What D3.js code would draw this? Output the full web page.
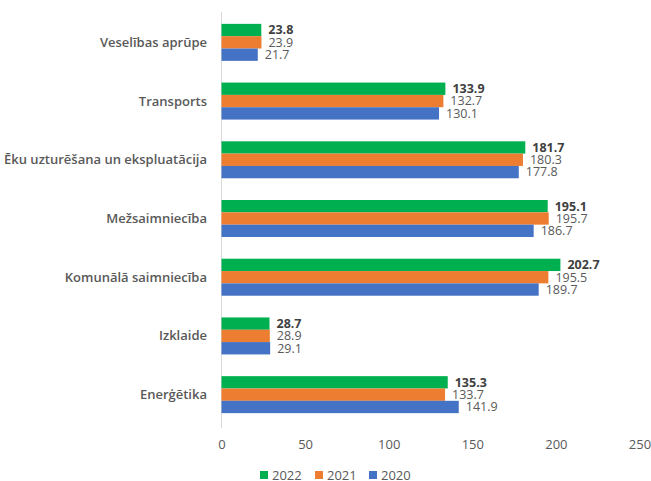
<!DOCTYPE html>
<meta charset="utf-8">
<html>
<style>
  body { margin: 0; background: #fff; }
  .chart text { font-family: "Open Sans", sans-serif; fill: #595959; }
  .cat text { font-size: 13px; font-weight: 600; }
  .xaxis text { font-size: 13px; }
  .val { font-size: 12.5px; }
</style>
<script src="https://cdn.jsdelivr.net/npm/d3@7"></script>
<body>
  <svg class="chart"></svg>
</body>
<script>
  var width = 651;
  var height = 481;

  var categories = ["Veselības aprūpe", "Transports", "Ēku uzturēšana un ekspluatācija",
    "Mežsaimniecība", "Komunālā saimniecība", "Izklaide", "Enerģētika"];
  var years = ["2022", "2021", "2020"];
  var v2022 = [23.8, 133.9, 181.7, 195.1, 202.7, 28.7, 135.3];
  var v2021 = [23.9, 132.7, 180.3, 195.7, 195.5, 28.9, 133.7];
  var v2020 = [21.7, 130.1, 177.8, 186.7, 189.7, 29.1, 141.9];
  var xTicks = [0, 50, 100, 150, 200, 250];
  var colors = ["#00B050", "#ED7D31", "#4472C4"];
  var series = [v2022, v2021, v2020];

  var svg = d3.select(".chart")
    .attr("width", width)
    .attr("height", height);

  var x = d3.scaleLinear().domain([0, 250]).range([221.5, 639.5]);

  var y = d3.scaleBand().domain(categories)
    .range([13, 424])
    .paddingInner(0.37)
    .paddingOuter(0.185);

  var y1 = d3.scaleBand().domain(years).range([0, y.bandwidth()]);

  // vertical axis line
  svg.append("line")
    .attr("x1", x(0)).attr("x2", x(0))
    .attr("y1", 12).attr("y2", 428)
    .attr("stroke", "#d9d9d9").attr("stroke-width", 1);

  var groups = svg.selectAll("g.grp")
    .data(categories)
    .enter().append("g")
    .attr("class", "grp")
    .attr("transform", function(d) { return "translate(0," + y(d) + ")"; });

  groups.each(function(c, i) {
    var g = d3.select(this);
    years.forEach(function(yr, j) {
      var v = series[j][i];
      g.append("rect")
        .attr("x", x(0))
        .attr("y", y1(yr))
        .attr("width", x(v) - x(0))
        .attr("height", y1.bandwidth())
        .attr("fill", colors[j]);
      g.append("text")
        .attr("class", "val")
        .attr("x", x(v) + 7)
        .attr("y", y1(yr) + y1.bandwidth() / 2)
        .attr("dy", "0.35em")
        .style("font-weight", j == 0 ? "bold" : "normal")
        .style("fill", j == 0 ? "#404040" : "#595959")
        .text(v.toFixed(1));
    });
  });

  // category labels
  var cat = svg.append("g").attr("class", "cat");
  cat.selectAll("text")
    .data(categories)
    .enter().append("text")
    .attr("x", 207)
    .attr("y", function(d) { return y(d) + y.bandwidth() / 2; })
    .attr("dy", "0.35em")
    .attr("text-anchor", "end")
    .text(function(d) { return d; });

  // x axis labels
  var xa = svg.append("g").attr("class", "xaxis")
    .attr("transform", "translate(0,428)")
    .call(d3.axisBottom(x).tickValues(xTicks).tickSize(0).tickPadding(12));
  xa.select(".domain").remove();
  xa.selectAll("text").attr("fill", "#595959");

  // legend
  var legendX = [260, 315, 369];
  var legend = svg.selectAll("g.leg")
    .data(years)
    .enter().append("g")
    .attr("class", "leg")
    .attr("transform", function(d, i) { return "translate(" + legendX[i] + ",471)"; });
  legend.append("rect")
    .attr("width", 8).attr("height", 8)
    .attr("fill", function(d, i) { return colors[i]; });
  legend.append("text")
    .attr("x", 12).attr("y", 4).attr("dy", "0.36em")
    .style("font-size", "13px")
    .text(function(d) { return d; });
</script>
</html>
